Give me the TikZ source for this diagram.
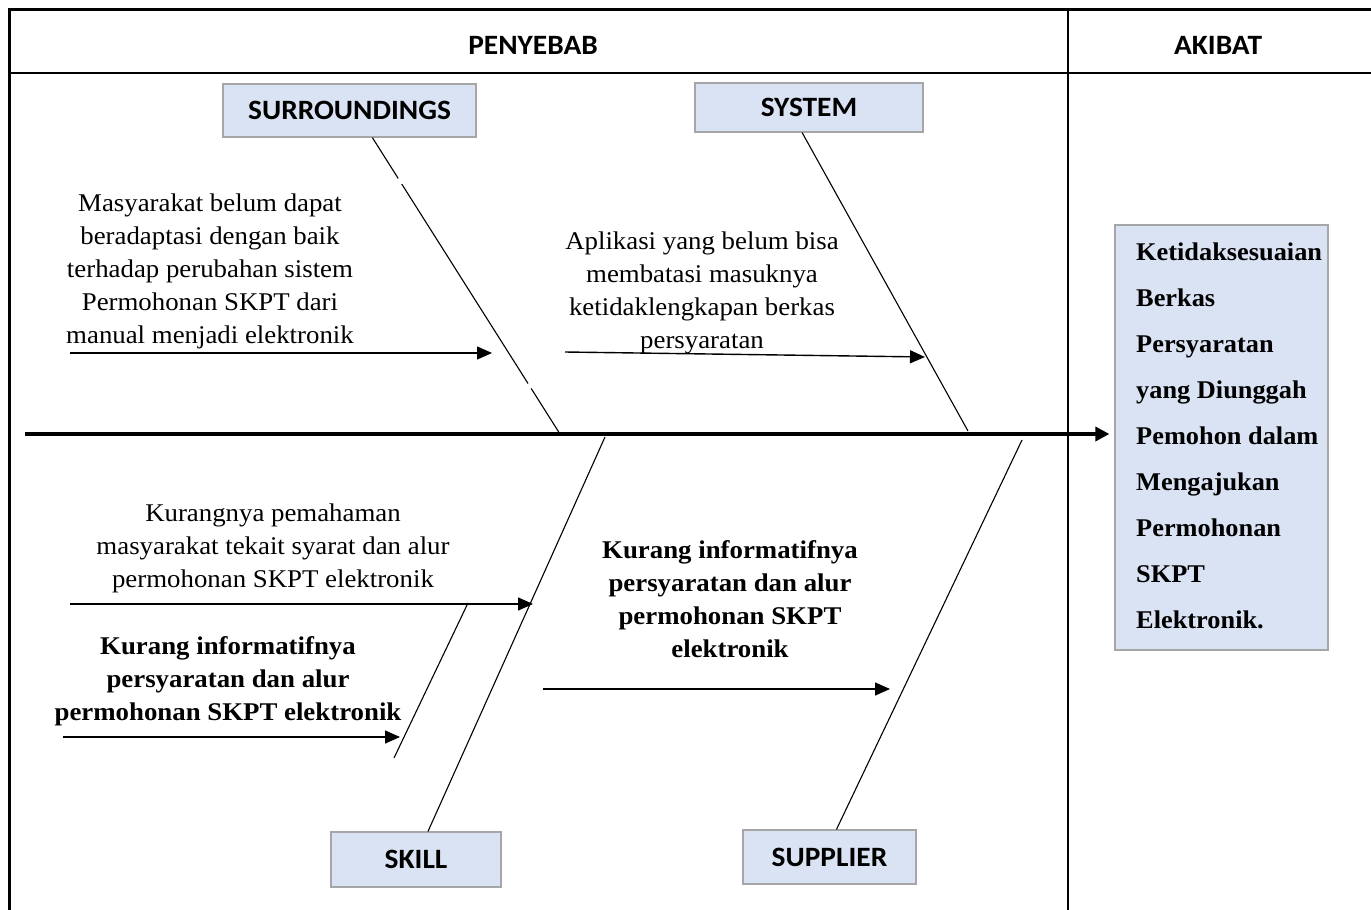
\documentclass[tikz,border=0pt]{standalone}
\usepackage{fontspec}
\setmainfont{Liberation Serif}[FakeStretch=1.052]
\newfontfamily\lblfont{Carlito}[FakeStretch=1.05]
\newfontfamily\effectfont{Liberation Serif}[FakeStretch=1.033]
\usetikzlibrary{arrows.meta,calc}
\definecolor{boxfill}{HTML}{DAE3F3}
\definecolor{boxline}{HTML}{A6A6A6}
\tikzset{
  catbox/.style={draw=boxline, line width=1.2pt, fill=boxfill, inner sep=0pt,
    font=\lblfont\bfseries\fontsize{28}{32}\selectfont},
  headtxt/.style={inner sep=0pt, font=\lblfont\bfseries\fontsize{28}{32}\selectfont},
  causetxt/.style={inner sep=0pt, align=center, font=\fontsize{25.5}{33}\selectfont},
  boldtxt/.style={inner sep=0pt, align=center, font=\bfseries\fontsize{25.5}{33}\selectfont},
  bone/.style={line width=1.1pt},
  causearrow/.style={line width=1.4pt, -{Triangle[length=15pt,width=13pt]}},
  frame/.style={line width=3pt},
}
\begin{document}
\begin{tikzpicture}[x=1pt,y=-1pt]
\useasboundingbox (0,0) rectangle (1371,910);
% frame
\draw[frame] (9,910) -- (9,9) -- (1371,9);
\draw[line width=2pt] (9,73) -- (1371,73);
\draw[line width=1.4pt] (1068,9) -- (1068,910);
\node[headtxt] (penyebab) at (533,45) {PENYEBAB};
\node[headtxt] (akibat) at (1218,45) {AKIBAT};
% category boxes
\node[catbox, minimum width=253pt, minimum height=53pt] (surr) at (349.5,110.5) {SURROUNDINGS};
\node[catbox, minimum width=228pt, minimum height=49pt] (sys) at (809,107.5) {SYSTEM};
\node[catbox, minimum width=170pt, minimum height=55pt] (skill) at (416,859.5) {SKILL};
\node[catbox, minimum width=173pt, minimum height=54pt] (supp) at (829.5,857) {SUPPLIER};
% effect box
\node[draw=boxline, line width=1.2pt, fill=boxfill, minimum width=213pt, minimum height=425pt, inner sep=0pt] (effect) at (1221.5,437.5) {};
\node[inner sep=0pt, anchor=west, align=left, font=\effectfont\bfseries\fontsize{25.5}{46}\selectfont] (effecttxt) at (1136,436)
 {Ketidaksesuaian\\Berkas\\Persyaratan\\yang Diunggah\\Pemohon dalam\\Mengajukan\\Permohonan\\SKPT\\Elektronik.};
% spine
\coordinate (spineL) at (25,434);
\draw[line width=3.5pt, shorten >=5pt, -{Triangle[length=14pt,width=14pt]}] (spineL) -- (effect.west |- spineL) coordinate (spineR);
% bone endpoints on spine
\coordinate (surrT) at ($(surr.south west)!0.59!(surr.south east)$);
\coordinate (surrS) at (560,434);
\coordinate (sysS) at (968,431);
\coordinate (skillS) at (605,437);
\coordinate (suppS) at (1022,440);
\draw[bone] (surrT) -- (surrS);
\draw[white, line width=3pt] ($(surrT)!0.138!(surrS)$) -- ($(surrT)!0.156!(surrS)$);
\draw[white, line width=3pt] ($(surrT)!0.83!(surrS)$) -- ($(surrT)!0.846!(surrS)$);
\draw[bone] ($(sys.south west)!0.47!(sys.south east)$) -- (sysS);
\draw[bone] ($(skill.north west)!0.57!(skill.north east)$) -- (skillS);
\draw[bone] ($(supp.north west)!0.54!(supp.north east)$) -- (suppS);
% sub bone
\coordinate (subA) at (468,603);
\coordinate (subB) at (394,758);
\draw[bone] (subA) -- (subB);
% cause texts
\node[causetxt] (c1) at (210,271) {Masyarakat belum dapat\\beradaptasi dengan baik\\terhadap perubahan sistem\\Permohonan SKPT dari\\manual menjadi elektronik};
\node[causetxt] (c2) at (702,293) {Aplikasi yang belum bisa\\membatasi masuknya\\ketidaklengkapan berkas\\persyaratan};
\node[causetxt] (c3) at (273,548) {Kurangnya pemahaman\\masyarakat tekait syarat dan alur\\permohonan SKPT elektronik};
\node[boldtxt] (c4) at (228,681) {Kurang informatifnya\\persyaratan dan alur\\permohonan SKPT elektronik};
\node[boldtxt] (c5) at (730,599) {Kurang informatifnya\\persyaratan dan alur\\permohonan SKPT\\elektronik};
% cause arrows
\coordinate (a1s) at (70,353); \coordinate (a1e) at (492,353);
\coordinate (a2s) at (565,352); \coordinate (a2e) at (925,357);
\coordinate (a3s) at (70,604); \coordinate (a3e) at (533,604);
\coordinate (a4s) at (63,737); \coordinate (a4e) at (400,737);
\coordinate (a5s) at (543,689); \coordinate (a5e) at (890,689);
\draw[causearrow] (a1s) -- (a1e);
\draw[causearrow] (a2s) -- (a2e);
\draw[causearrow] (a3s) -- (a3e);
\draw[causearrow] (a4s) -- (a4e);
\draw[causearrow] (a5s) -- (a5e);
\end{tikzpicture}
\end{document}
